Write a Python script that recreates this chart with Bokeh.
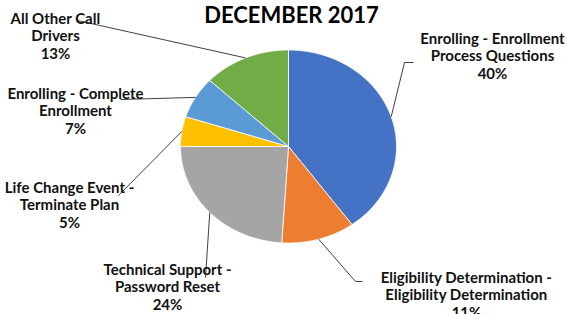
import numpy as np
from bokeh.plotting import figure
from bokeh.models import Range1d
from bokeh.core.properties import value
from bokeh.embed import file_html
from bokeh.resources import INLINE

# ---- data ----
title = "DECEMBER 2017"
categories = [
    "Enrolling - Enrollment\nProcess Questions",
    "Eligibility Determination -\nEligibility Determination",
    "Technical Support -\nPassword Reset",
    "Life Change Event -\nTerminate Plan",
    "Enrolling - Complete\nEnrollment",
    "All Other Call\nDrivers",
]
shares = [40, 11, 24, 5, 7, 13]
colors = ["#4472C4", "#ED7D31", "#A5A5A5", "#FFC000", "#5B9BD5", "#70AD47"]

# ---- layout (screen-pixel coordinates) ----
W, H = 566, 314
CX, CY, RX, RY = 288, 146, 108, 96.5
label_pos = [(492, 37), (466, 276), (167, 268), (69, 186), (75, 92), (55, 17)]
line_gap = 17.5
leader_start = [(413, 62), (362, 281), (205, 277), (118, 195), (120, 99), (77, 20)]
leader_elbow = [(404, 62), (355, 281), None, None, None, None]

p = figure(width=W, height=H, x_range=Range1d(0, W), y_range=Range1d(H, 0),
           output_backend="svg", toolbar_location=None, min_border=0,
           x_axis_type=None, y_axis_type=None)
p.grid.visible = False
p.outline_line_color = None
p.background_fill_color = "white"
p.border_fill_color = "white"

total = float(sum(shares))
fracs = np.cumsum([0] + shares) / total

xs, ys = [], []
for i in range(len(shares)):
    t = np.linspace(fracs[i], fracs[i + 1], 120) * 2 * np.pi
    xs.append(np.concatenate([[CX], CX + RX * np.sin(t)]).tolist())
    ys.append(np.concatenate([[CY], CY - RY * np.cos(t)]).tolist())
p.patches(xs, ys, fill_color=colors, line_color="white", line_width=0.8)

# leader lines
lx, ly = [], []
for i in range(len(shares)):
    mid = (fracs[i] + fracs[i + 1]) / 2 * 2 * np.pi
    ex, ey = CX + RX * np.sin(mid), CY - RY * np.cos(mid)
    px = [leader_start[i][0]]
    py = [leader_start[i][1]]
    if leader_elbow[i] is not None:
        px.append(leader_elbow[i][0]); py.append(leader_elbow[i][1])
    px.append(ex); py.append(ey)
    lx.append(px); ly.append(py)
p.multi_line(lx, ly, line_color="#404040", line_width=1)

# labels
tx, ty, tt = [], [], []
for i, cat in enumerate(categories):
    lines = cat.split("\n") + [f"{shares[i]}%"]
    for k, s in enumerate(lines):
        tx.append(label_pos[i][0]); ty.append(label_pos[i][1] + k * line_gap); tt.append(s)
p.text(tx, ty, text=tt, text_align="center", text_baseline="middle",
       text_font=value("Lato"), text_font_style="bold", text_font_size="15px",
       text_color="#111111")

p.text([291], [14], text=[title], text_align="center", text_baseline="middle",
       text_font=value("Lato"), text_font_style="bold", text_font_size="22px",
       text_color="#000000")

open("out.html", "w").write(file_html(p, INLINE))
